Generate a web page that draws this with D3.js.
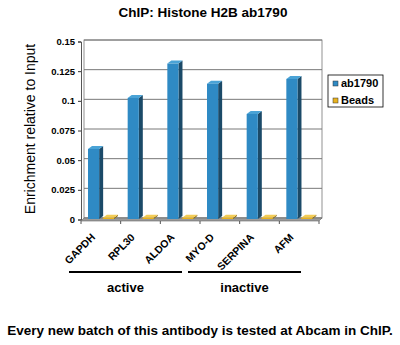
<!DOCTYPE html>
<html>
<head>
<meta charset="utf-8">
<script src="https://cdn.jsdelivr.net/npm/d3@7"></script>
<style>
  body { margin: 0; background: #fff; }
  text { font-family: "Liberation Sans", Arial, sans-serif; }
</style>
</head>
<body>
<div id="chart"></div>
<script>
// chart data
var categories = ['GAPDH', 'RPL30', 'ALDOA', 'MYO-D', 'SERPINA', 'AFM'];
var seriesNames = ['ab1790', 'Beads'];
var ab1790 = [0.059, 0.102, 0.131, 0.114, 0.0885, 0.118];
var beads = [0.001, 0.001, 0.001, 0.001, 0.001, 0.001];
var yTicks = [0, 0.025, 0.05, 0.075, 0.1, 0.125, 0.15];
var yTickLabels = ['0', '0.025', '0.05', '0.075', '0.1', '0.125', '0.15'];
var groups = [
  { name: 'active', from: 'GAPDH', to: 'ALDOA' },
  { name: 'inactive', from: 'MYO-D', to: 'AFM' }
];

var width = 400, height = 345;
var plot = { left: 84, right: 322, top: 40, bottom: 218 };
var depth = 3;       // offset of the back wall
var barDepth = 4;    // bar side thickness
var colors = {
  ab1790: { front: '#2f8ac4', side: '#1b4a68', top: '#4aa3d6' },
  Beads: { front: '#e8b21e', side: '#8d6a0e', top: '#f3cc55' }
};

var svg = d3.select('#chart').append('svg')
  .attr('width', width)
  .attr('height', height);

var y = d3.scaleLinear().domain([0, 0.15]).range([plot.bottom, plot.top]);
var x0 = d3.scaleBand().domain(categories)
  .range([plot.left - depth, plot.right - depth]);
var x1 = d3.scaleBand().domain(seriesNames)
  .range([7, 33]).paddingInner(0.25);

// title
svg.append('text')
  .attr('x', 203).attr('y', 17)
  .attr('text-anchor', 'middle')
  .attr('font-size', '13.5px').attr('font-weight', 'bold')
  .text('ChIP: Histone H2B ab1790');

// back wall gridlines
svg.append('g').attr('class', 'grid')
  .selectAll('line').data(yTicks).enter().append('line')
  .attr('x1', plot.left).attr('x2', plot.right)
  .attr('y1', function (d) { return y(d); })
  .attr('y2', function (d) { return y(d); })
  .attr('stroke', '#555').attr('stroke-width', 0.8);

svg.append('rect')
  .attr('x', plot.left).attr('y', plot.top)
  .attr('width', plot.right - plot.left).attr('height', plot.bottom - plot.top)
  .attr('fill', 'none').attr('stroke', '#777').attr('stroke-width', 0.8);

// floor
var f0 = y(0);
svg.append('path')
  .attr('d', 'M' + plot.left + ',' + f0 + 'L' + plot.right + ',' + f0 +
    'L' + (plot.right - depth) + ',' + (f0 + depth) +
    'L' + (plot.left - depth) + ',' + (f0 + depth) + 'Z')
  .attr('fill', '#9a9a9a').attr('stroke', '#666').attr('stroke-width', 0.6);

// left front axis
var yAxis = d3.axisLeft(y.copy().range([plot.bottom + 1.5, plot.top + 1.5]))
  .tickValues(yTicks)
  .tickSize(3)
  .tickFormat(function (d, i) { return yTickLabels[i]; });
var yg = svg.append('g')
  .attr('transform', 'translate(' + (plot.left - depth) + ',0)')
  .call(yAxis);
yg.select('.domain').attr('stroke', '#555');
yg.selectAll('.tick line').attr('stroke', '#333');
yg.selectAll('.tick text')
  .attr('font-size', '9.5px').attr('font-weight', 'bold')
  .attr('font-family', '"Liberation Sans", Arial, sans-serif')
  .attr('fill', '#000');

// x axis ticks between categories
var xAxis = d3.axisBottom(x0).tickSize(0).tickFormat('');
var xg = svg.append('g')
  .attr('transform', 'translate(0,' + (f0 + depth) + ')')
  .call(xAxis);
xg.select('.domain').remove();
xg.selectAll('.sep')
  .data(categories.concat(['end']))
  .enter().append('line')
  .attr('class', 'sep')
  .attr('x1', function (d, i) { return x0.range()[0] + i * x0.step(); })
  .attr('x2', function (d, i) { return x0.range()[0] + i * x0.step(); })
  .attr('y1', 0).attr('y2', 3)
  .attr('stroke', '#555');

// category labels
svg.append('g').selectAll('text').data(categories).enter().append('text')
  .attr('transform', function (d) {
    var cx = x0(d) + x0.bandwidth() / 2 - 5;
    return 'translate(' + cx + ',' + (f0 + 20) + ') rotate(-45)';
  })
  .attr('text-anchor', 'end')
  .attr('font-size', '10.5px').attr('font-weight', 'bold')
  .text(function (d) { return d; });

// 3d bars
var rows = [];
categories.forEach(function (c, i) {
  rows.push({ cat: c, series: 'ab1790', value: ab1790[i] });
  rows.push({ cat: c, series: 'Beads', value: beads[i] });
});

var bars = svg.append('g').selectAll('g.bar').data(rows).enter()
  .append('g').attr('class', 'bar');

bars.each(function (d) {
  var g = d3.select(this);
  var bx = x0(d.cat) + x1(d.series);
  var bw = x1.bandwidth();
  var top = y(d.value) + 1;
  var bottom = f0 + 1;
  var c = colors[d.series];
  // side
  g.append('path')
    .attr('d', 'M' + (bx + bw) + ',' + top + 'L' + (bx + bw + barDepth) + ',' + (top - depth) +
      'L' + (bx + bw + barDepth) + ',' + (bottom - depth) + 'L' + (bx + bw) + ',' + bottom + 'Z')
    .attr('fill', c.side);
  // top
  g.append('path')
    .attr('d', 'M' + bx + ',' + top + 'L' + (bx + barDepth) + ',' + (top - depth) +
      'L' + (bx + bw + barDepth) + ',' + (top - depth) + 'L' + (bx + bw) + ',' + top + 'Z')
    .attr('fill', c.top);
  // front
  g.append('rect')
    .attr('x', bx).attr('y', top)
    .attr('width', bw).attr('height', Math.max(0.5, bottom - top))
    .attr('fill', c.front);
});

// legend
var legend = svg.append('g').attr('transform', 'translate(328,75)');
legend.append('rect')
  .attr('width', 55).attr('height', 32)
  .attr('fill', '#fff').attr('stroke', '#000').attr('stroke-width', 0.8);
var li = legend.selectAll('g.item').data(seriesNames).enter()
  .append('g').attr('class', 'item')
  .attr('transform', function (d, i) { return 'translate(5,' + (6 + i * 17) + ')'; });
li.append('rect')
  .attr('width', 5).attr('height', 5)
  .attr('fill', function (d) { return colors[d].front; })
  .attr('stroke', '#333').attr('stroke-width', 0.5);
li.append('text')
  .attr('x', 8).attr('y', 6)
  .attr('font-size', '11px').attr('font-weight', 'bold')
  .text(function (d) { return d; });

// y axis title
svg.append('text')
  .attr('transform', 'translate(35,129) rotate(-90)')
  .attr('text-anchor', 'middle')
  .attr('font-size', '14px')
  .text('Enrichment relative to Input');

// group brackets
var gg = svg.append('g').selectAll('g').data(groups).enter().append('g');
gg.append('line')
  .attr('x1', function (d) { return x0(d.from) - 12; })
  .attr('x2', function (d) { return x0(d.to) + x0.bandwidth() - 18; })
  .attr('y1', 272).attr('y2', 272)
  .attr('stroke', '#000').attr('stroke-width', 2);
gg.append('text')
  .attr('x', function (d) { return (x0(d.from) - 12 + x0(d.to) + x0.bandwidth() - 18) / 2; })
  .attr('y', 292)
  .attr('text-anchor', 'middle')
  .attr('font-size', '13px').attr('font-weight', 'bold')
  .text(function (d) { return d.name; });

// footer
svg.append('text')
  .attr('x', 200).attr('y', 335)
  .attr('text-anchor', 'middle')
  .attr('font-size', '13.5px').attr('font-weight', 'bold')
  .text('Every new batch of this antibody is tested at Abcam in ChIP.');
</script>
</body>
</html>
